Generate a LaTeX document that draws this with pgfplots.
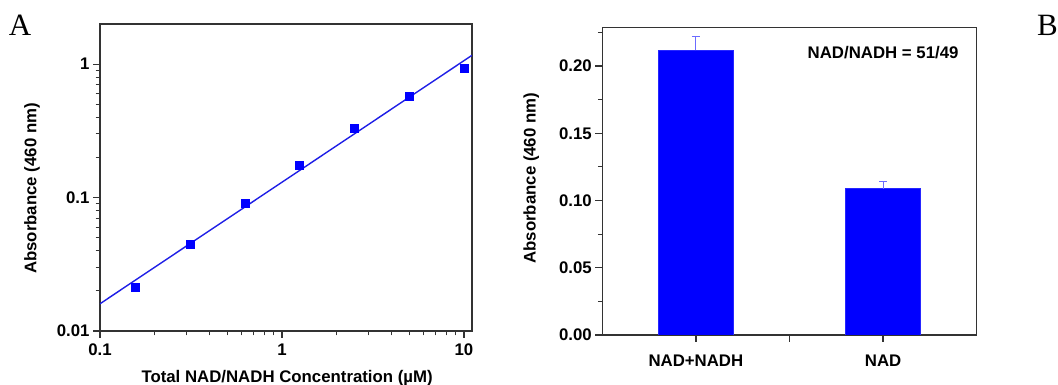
\documentclass[border=0pt]{standalone}
\usepackage{pgfplots}
\pgfplotsset{compat=1.18}
\usepackage{fontspec}
\setmainfont{Liberation Sans}
\newfontfamily\serifAB{Liberation Serif}
\definecolor{axgray}{HTML}{333333}
\definecolor{errblue}{HTML}{6B6BFF}
\newcommand{\lblfont}{\fontsize{16.8}{20}\selectfont\bfseries}
\pgfplotsset{
  common/.style={
    scale only axis,
    anchor=south west,
    axis line style={axgray, line width=1.3pt},
    tick style={axgray, line width=1.3pt},
    major tick style={axgray, line width=1.3pt},
    minor tick style={axgray, line width=1.1pt},
    major tick length=7pt,
    minor tick length=4.5pt,
    tick align=outside,
    xtick pos=bottom,
    ytick pos=left,
    ticklabel style={font=\lblfont},
    label style={font=\lblfont},
    /pgf/number format/assume math mode=true,
  }
}
\begin{document}
\begin{tikzpicture}[x=1pt,y=1pt]
\useasboundingbox (0,0) rectangle (1058,385);
\node[font=\serifAB\fontsize{31}{34}\selectfont] at (20,360) {A};
\node[font=\serifAB\fontsize{31}{34}\selectfont] at (1047.5,360) {B};

\begin{axis}[common,
  at={(100pt,54pt)},
  width=372pt, height=307pt,
  xmode=log, ymode=log,
  xmin=0.1, xmax=11.07, ymin=0.01, ymax=2,
  xtick={0.1,1,10}, xticklabels={0.1,1,10},
  ytick={0.01,0.1,1}, yticklabels={0.01,0.1,1},
  minor xtick={0.2,0.3,0.4,0.5,0.6,0.7,0.8,0.9,2,3,4,5,6,7,8,9},
  minor ytick={0.02,0.03,0.04,0.05,0.06,0.07,0.08,0.09,0.2,0.3,0.4,0.5,0.6,0.7,0.8,0.9},
  xlabel={Total NAD/NADH Concentration (\textmu M)},
  ylabel={Absorbance (460 nm)},
  xlabel style={at={(rel axis cs:0.503,-0.153)}, anchor=center},
  ylabel style={at={(rel axis cs:-0.183,0.464)}, anchor=center},
  xticklabel style={yshift=-2pt},
]
\addplot[line width=1.4pt, color={rgb,255:red,30;green,30;blue,230}] coordinates {(0.1,0.0160) (11.07,1.165)};
\addplot[only marks, mark=square*, mark size=4pt, color=blue, fill=blue] coordinates {
(0.15625,0.0214) (0.3125,0.0445) (0.625,0.0902) (1.25,0.1745) (2.5,0.333) (5,0.58) (10,0.927)};
\end{axis}

\begin{axis}[common,
  at={(602.3pt,50pt)},
  width=374.4pt, height=307.3pt,
  xmin=0, xmax=4, ymin=0, ymax=0.2285,
  xtick={1,2,3}, xticklabels={NAD+NADH,,NAD},
  ytick={0,0.05,0.1,0.15,0.2}, yticklabels={0.00,0.05,0.10,0.15,0.20},
  minor ytick={0.025,0.075,0.125,0.175,0.225},
  ylabel={Absorbance (460 nm)},
  ylabel style={at={(rel axis cs:-0.19,0.51)}, anchor=center},
  xticklabel style={yshift=-9pt},
]
\addplot[ybar, bar width=0.8, fill=blue, draw=blue!85!white, line width=0.6pt,
  error bars/.cd, y dir=plus, y explicit,
  error bar style={errblue, line width=0.9pt},
  error mark options={rotate=90, errblue, mark size=4pt, line width=0.9pt}]
  coordinates {(1,0.2117) +- (0,0.0106) (3,0.1088) +- (0,0.0055)};
\node[font=\lblfont] at (axis cs:3,0.2099) {NAD/NADH = 51/49};
\end{axis}
\end{tikzpicture}
\end{document}
